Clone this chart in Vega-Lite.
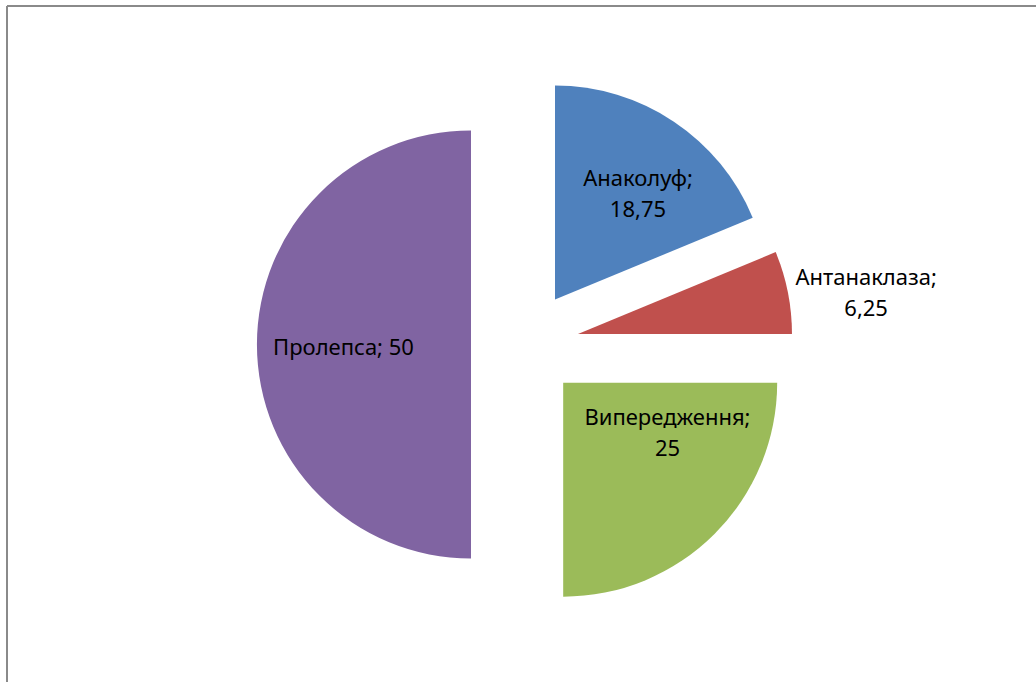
{
  "$schema": "https://vega.github.io/schema/vega-lite/v6.json",
  "width": 1029,
  "height": 676,
  "autosize": "none",
  "padding": {"left": 7, "top": 6, "right": 0, "bottom": 0},
  "background": "white",
  "view": {"stroke": null, "fill": "white"},
  "data": {
    "values": [
      {"cat": "Анаколуф", "value": 18.75, "label": "Анаколуф;\n18,75"},
      {"cat": "Антанаклаза", "value": 6.25, "label": "Антанаклаза;\n6,25"},
      {"cat": "Випередження", "value": 25, "label": "Випередження;\n25"},
      {"cat": "Пролепса", "value": 50, "label": "Пролепса; 50"}
    ]
  },
  "transform": [
    {"stack": "value", "groupby": [], "as": ["v0", "v1"], "sort": [{"field": "cat", "order": "ascending"}]}
  ],
  "layer": [
    {
      "mark": {"type": "rule", "color": "#8a8a8a", "strokeWidth": 2},
      "encoding": {"x": {"value": 0}}
    },
    {
      "mark": {"type": "rule", "color": "#8a8a8a", "strokeWidth": 2},
      "encoding": {"y": {"value": 0}}
    },
    {
      "mark": {
        "type": "arc",
        "radius": 214,
        "x": {"expr": "518 + 54*sin(PI*(datum.v0+datum.v1)/100)"},
        "y": {"expr": "338.5 - 54*cos(PI*(datum.v0+datum.v1)/100)"}
      },
      "encoding": {
        "theta": {"field": "v0", "type": "quantitative", "scale": {"domain": [0, 100]}},
        "theta2": {"field": "v1"},
        "color": {
          "field": "cat",
          "type": "nominal",
          "scale": {
            "domain": ["Анаколуф", "Антанаклаза", "Випередження", "Пролепса"],
            "range": ["#4F81BD", "#C0504D", "#9BBB59", "#8064A2"]
          },
          "legend": null
        }
      }
    },
    {
      "mark": {
        "type": "text",
        "font": "Noto Sans",
        "fontSize": 22,
        "lineBreak": "\n",
        "lineHeight": 31,
        "align": "center",
        "baseline": "middle",
        "color": "black",
        "dy": {"expr": "datum.cat=='Пролепса' ? 3 : -15.5"},
        "x": {"expr": "518 + 54*sin(PI*(datum.v0+datum.v1)/100) + (datum.cat=='Анаколуф'?134:datum.cat=='Антанаклаза'?291:datum.cat=='Випередження'?116:127.5)*sin(PI*(datum.v0+datum.v1)/100 + (datum.cat=='Анаколуф'?0.0785:datum.cat=='Антанаклаза'?0.0567:datum.cat=='Випередження'?-0.332:0))"},
        "y": {"expr": "338.5 - 54*cos(PI*(datum.v0+datum.v1)/100) - (datum.cat=='Анаколуф'?134:datum.cat=='Антанаклаза'?291:datum.cat=='Випередження'?116:127.5)*cos(PI*(datum.v0+datum.v1)/100 + (datum.cat=='Анаколуф'?0.0785:datum.cat=='Антанаклаза'?0.0567:datum.cat=='Випередження'?-0.332:0))"}
      },
      "encoding": {
        "text": {"field": "label", "type": "nominal"}
      }
    }
  ]
}
